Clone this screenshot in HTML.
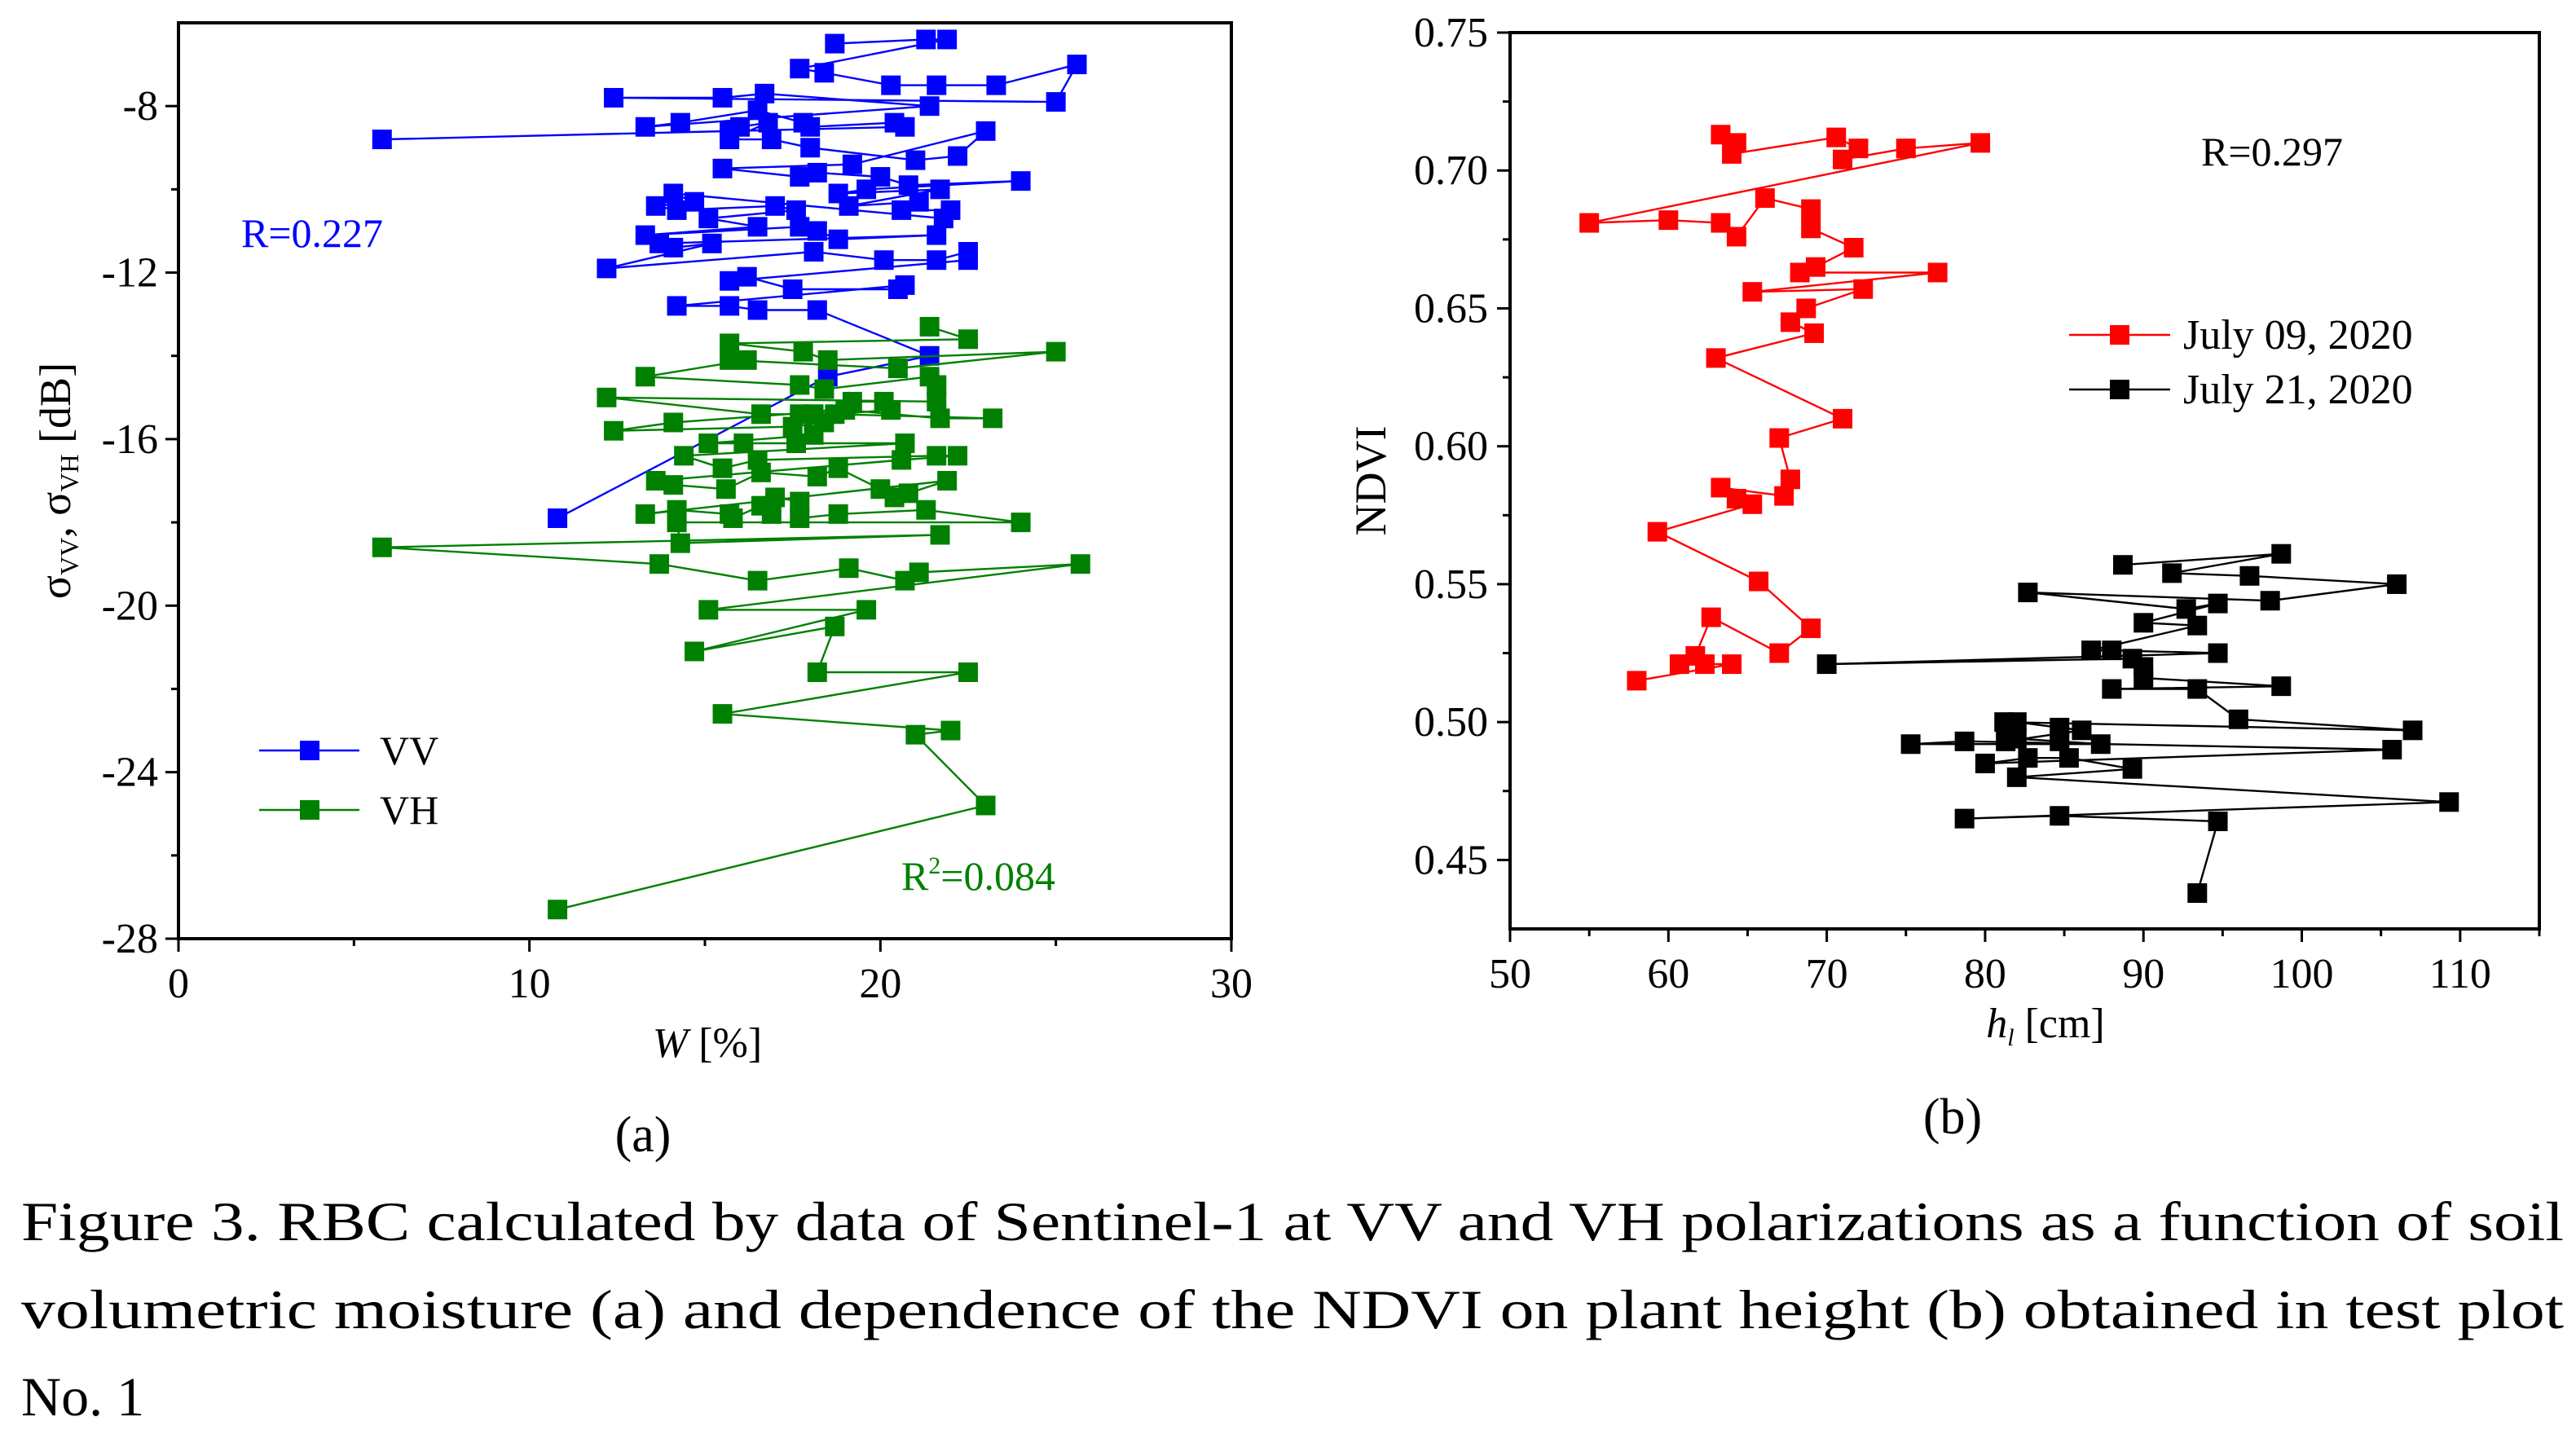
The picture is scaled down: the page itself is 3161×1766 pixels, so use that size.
<!DOCTYPE html>
<html><head><meta charset="utf-8"><style>
html,body{margin:0;padding:0;background:#fff;}
svg{display:block;font-family:"Liberation Serif",serif;}
</style></head><body>
<svg id="fig" width="3161" height="1766" viewBox="0 0 3161 1766" xmlns="http://www.w3.org/2000/svg">
<g id="pa"></g>
<g id="pb"></g>
<text x="26" y="1522" font-size="68" textLength="3120" lengthAdjust="spacingAndGlyphs">Figure 3. RBC calculated by data of Sentinel-1 at VV and VH polarizations as a function of soil</text>
<text x="26" y="1630" font-size="68" textLength="3120" lengthAdjust="spacingAndGlyphs">volumetric moisture (a) and dependence of the NDVI on plant height (b) obtained in test plot</text>
<text x="26" y="1737" font-size="68">No. 1</text>
</svg>
<script>
const vvX=[18.7,21.3,21.9,17.7,18.4,20.3,21.6,23.3,25.6,25.0,12.4,15.5,16.7,21.4,13.3,14.3,16.5,17.8,18.0,20.4,20.7,5.8,15.7,16.0,16.8,15.7,16.9,18.0,21.0,22.2,23.0,19.2,15.5,17.7,18.2,20.0,20.8,24.0,19.6,18.8,21.7,19.1,21.1,20.6,22.0,21.8,14.1,14.7,13.6,14.2,17.0,17.6,15.1,16.5,13.3,17.7,18.2,18.8,21.6,13.7,14.1,15.2,12.2,18.1,20.1,21.6,22.5,22.5,15.7,16.2,17.5,20.5,20.7,14.2,15.7,16.5,18.2,21.4,18.5,10.8];
const vvY=[-6.5,-6.4,-6.4,-7.1,-7.2,-7.5,-7.5,-7.5,-7.0,-7.9,-7.8,-7.8,-7.7,-8.0,-8.5,-8.4,-8.1,-8.4,-8.5,-8.4,-8.5,-8.8,-8.6,-8.5,-8.4,-8.8,-8.8,-9.0,-9.3,-9.2,-8.6,-9.4,-9.5,-9.7,-9.6,-9.7,-9.9,-9.8,-10.0,-10.1,-10.0,-10.4,-10.3,-10.5,-10.5,-10.7,-10.1,-10.3,-10.4,-10.5,-10.4,-10.5,-10.7,-10.9,-11.1,-10.9,-11.0,-11.2,-11.1,-11.3,-11.4,-11.3,-11.9,-11.5,-11.7,-11.7,-11.5,-11.7,-12.2,-12.1,-12.4,-12.4,-12.3,-12.8,-12.8,-12.9,-12.9,-14.0,-14.5,-17.9];
const vhX=[21.4,22.5,15.7,17.8,18.5,25.0,20.5,15.7,16.2,13.3,17.7,18.4,21.4,21.6,21.6,12.2,16.6,17.7,18.1,19.2,20.1,20.3,18.7,23.2,21.7,19.0,14.1,12.4,17.5,18.4,18.1,15.1,16.1,17.6,20.7,14.4,15.5,16.5,21.6,22.2,20.6,13.6,14.1,15.6,16.6,18.2,18.8,20.0,20.4,20.8,21.9,13.3,14.2,15.7,15.8,16.6,16.9,17.0,17.7,17.7,18.8,21.3,24.0,14.2,14.3,21.7,5.8,13.7,16.5,19.1,20.7,21.1,25.7,15.1,19.6,14.7,18.7,18.2,22.5,15.5,22.0,21.0,23.0,10.8];
const vhY=[-13.3,-13.6,-13.7,-13.9,-14.1,-13.9,-14.3,-14.1,-14.1,-14.5,-14.7,-14.8,-14.5,-14.7,-15.1,-15.0,-15.4,-15.4,-15.4,-15.1,-15.1,-15.3,-15.4,-15.5,-15.5,-15.3,-15.6,-15.8,-15.7,-15.6,-15.9,-16.1,-16.1,-16.1,-16.1,-16.4,-16.7,-16.5,-16.4,-16.4,-16.5,-17.0,-17.1,-17.2,-16.8,-16.9,-16.7,-17.2,-17.4,-17.3,-17.0,-17.8,-17.7,-17.8,-17.9,-17.6,-17.8,-17.4,-17.5,-17.9,-17.8,-17.7,-18.0,-18.0,-18.5,-18.3,-18.6,-19.0,-19.4,-19.1,-19.4,-19.2,-19.0,-20.1,-20.1,-21.1,-20.5,-21.6,-21.6,-22.6,-23.0,-23.1,-24.8,-27.3];
const redX=[63.3,64.3,64.0,70.6,72.0,71.0,75.0,79.7,55.0,60.0,63.3,64.3,66.1,69.0,69.0,71.7,69.3,68.3,77.0,65.3,72.3,68.7,67.7,69.2,63.0,71.0,67.0,67.7,67.3,63.3,64.3,65.3,59.3,65.7,69.0,67.0,62.7,61.7,62.3,60.7,64.0,58.0];
const redY=[0.713,0.710,0.706,0.712,0.708,0.704,0.708,0.710,0.681,0.682,0.681,0.676,0.690,0.686,0.679,0.672,0.665,0.663,0.663,0.656,0.657,0.650,0.645,0.641,0.632,0.610,0.603,0.588,0.582,0.585,0.581,0.579,0.569,0.551,0.534,0.525,0.538,0.524,0.521,0.521,0.521,0.515];
const blkX=[88.7,98.7,91.8,96.7,106.0,98.0,82.7,92.7,94.7,90.0,93.4,86.7,88.0,94.7,70.0,89.3,90.0,90.0,98.7,88.0,93.4,96.0,107.0,81.2,82.0,84.7,86.1,81.3,82.0,84.7,87.3,75.3,78.7,105.7,80.0,82.7,85.3,89.3,82.0,109.3,78.7,84.7,94.7,93.4];
const blkY=[0.557,0.561,0.554,0.553,0.550,0.544,0.547,0.541,0.543,0.536,0.535,0.526,0.526,0.525,0.521,0.523,0.520,0.516,0.513,0.512,0.512,0.501,0.497,0.500,0.500,0.498,0.497,0.493,0.494,0.493,0.492,0.492,0.493,0.490,0.485,0.487,0.487,0.483,0.480,0.471,0.465,0.466,0.464,0.438];
const aXTicks=[0,10,20,30], aYTicks=[-28,-24,-20,-16,-12,-8];
const bXTicks=[50,60,70,80,90,100,110], bYTicks=[0.45,0.50,0.55,0.60,0.65,0.70,0.75];

const NS="http://www.w3.org/2000/svg";
function mk(parent,tag,attrs,txt){const e=document.createElementNS(NS,tag);for(const k in attrs)e.setAttribute(k,attrs[k]);if(txt!==undefined)e.textContent=txt;parent.appendChild(e);return e;}

const ax=v=>219+(v-0)/30*(1511-219);
const ay=v=>1152-(v+28)/22*(1152-28);
const bx=v=>1853+(v-50)/65*(3116-1853);
const by=v=>40+(0.75-v)/0.325*(1140-40);

function series(g,xs,ys,sx,sy,color,name){
  const pts=xs.map((x,i)=>sx(x).toFixed(1)+","+sy(ys[i]).toFixed(1)).join(" ");
  const pl=mk(g,"polyline",{points:pts,fill:"none",stroke:color,"stroke-width":2.4});
  
  
  xs.forEach((x,i)=>{
    const r=mk(g,"rect",{x:sx(x)-12,y:sy(ys[i])-12,width:24,height:24,fill:color});
    
    
  });
}

const pa=document.getElementById("pa");
for(let v=0;v<=30;v+=5){const major=v%10===0;const t=mk(pa,"line",{x1:ax(v),x2:ax(v),y1:1152,y2:1152+(major?16:9),stroke:"#000","stroke-width":3});
}
aXTicks.forEach(v=>{const t=mk(pa,"text",{x:ax(v),y:1224,"font-size":52,"text-anchor":"middle"},String(v));
});
for(let v=-28;v<=-8;v+=2){const major=v%4===0;const t=mk(pa,"line",{x1:219,x2:219-(major?16:9),y1:ay(v),y2:ay(v),stroke:"#000","stroke-width":3});
}
aYTicks.forEach(v=>{const t=mk(pa,"text",{x:194,y:ay(v)+17,"font-size":52,"text-anchor":"end"},String(v));
});
series(pa,vvX,vvY,ax,ay,"#0000ff","vv");
series(pa,vhX,vhY,ax,ay,"#008000","vh");
mk(pa,"rect",{x:219,y:28,width:1292,height:1124,fill:"none",stroke:"#000","stroke-width":4,});
mk(pa,"text",{x:296,y:303,"font-size":50,fill:"#0000ff",},"R=0.227");
const r2=mk(pa,"text",{x:1106,y:1092,"font-size":50,fill:"#008000",});
r2.innerHTML='R<tspan font-size="30" dy="-20">2</tspan><tspan dy="20">=0.084</tspan>';
[["VV","#0000ff",921],["VH","#008000",994]].forEach(([n,c,y])=>{
  const g=mk(pa,"g",{});
  mk(g,"line",{x1:318,x2:441,y1:y,y2:y,stroke:c,"stroke-width":2.4});
  mk(g,"rect",{x:368,y:y-12,width:24,height:24,fill:c});
  mk(g,"text",{x:466,y:y+17,"font-size":50},n);
});
const yt=mk(pa,"text",{transform:"translate(86,590) rotate(-90)","font-size":54,"text-anchor":"middle",});
yt.innerHTML='σ<tspan font-size="32" dy="10">VV</tspan><tspan dy="-10">, σ</tspan><tspan font-size="32" dy="10">VH</tspan><tspan dy="-10"> [dB]</tspan>';
const xt=mk(pa,"text",{x:868,y:1297,"font-size":52,"text-anchor":"middle",});
xt.innerHTML='<tspan font-style="italic">W</tspan> [%]';
mk(pa,"text",{x:789,y:1413,"font-size":62,"text-anchor":"middle",},"(a)");

const pb=document.getElementById("pb");
for(let v=50;v<=115;v+=5){const major=v%10===0;const t=mk(pb,"line",{x1:bx(v),x2:bx(v),y1:1140,y2:1140+(major?16:9),stroke:"#000","stroke-width":3});
}
bXTicks.forEach(v=>{const t=mk(pb,"text",{x:bx(v),y:1212,"font-size":52,"text-anchor":"middle"},String(v));
});
for(let k=0;k<=12;k++){const v=0.45+k*0.025;const major=k%2===0;const t=mk(pb,"line",{x1:1853,x2:1853-(major?16:9),y1:by(v),y2:by(v),stroke:"#000","stroke-width":3});
}
bYTicks.forEach(v=>{const t=mk(pb,"text",{x:1826,y:by(v)+17,"font-size":52,"text-anchor":"end"},v.toFixed(2));
});
series(pb,redX,redY,bx,by,"#ff0000","july-09");
series(pb,blkX,blkY,bx,by,"#000000","july-21");
mk(pb,"rect",{x:1853,y:40,width:1263,height:1100,fill:"none",stroke:"#000","stroke-width":4,});
mk(pb,"text",{x:2701,y:203,"font-size":50,},"R=0.297");
[["July 09, 2020","#ff0000",411,"legend-entry-july-09"],["July 21, 2020","#000000",478,"legend-entry-july-21"]].forEach(([n,c,y,dn])=>{
  const g=mk(pb,"g",{});
  mk(g,"line",{x1:2539,x2:2663,y1:y,y2:y,stroke:c,"stroke-width":2.4});
  mk(g,"rect",{x:2589,y:y-12,width:24,height:24,fill:c});
  mk(g,"text",{x:2679,y:y+17,"font-size":52},n);
});
mk(pb,"text",{transform:"translate(1700,590) rotate(-90)","font-size":54,"text-anchor":"middle",},"NDVI");
const xtb=mk(pb,"text",{x:2510,y:1273,"font-size":52,"text-anchor":"middle",});
xtb.innerHTML='<tspan font-style="italic">h</tspan><tspan font-style="italic" font-size="30" dy="10">l</tspan><tspan dy="-10"> [cm]</tspan>';
mk(pb,"text",{x:2396,y:1391,"font-size":62,"text-anchor":"middle",},"(b)");
</script>
</body></html>
